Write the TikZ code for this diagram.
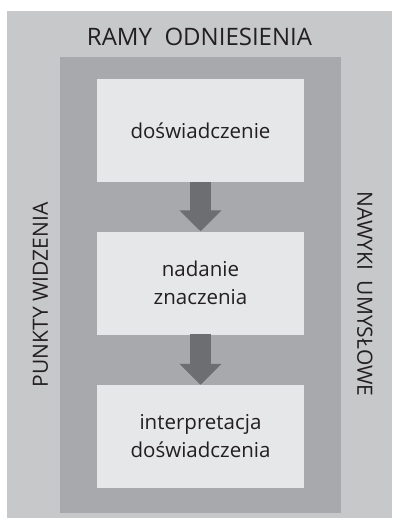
\documentclass[tikz,border=0pt]{standalone}
\usepackage{fontspec}
\setmainfont{Open Sans}
\usetikzlibrary{arrows.meta}
\definecolor{outerc}{HTML}{C7C8CA}
\definecolor{midc}{HTML}{A7A9AC}
\definecolor{innerc}{HTML}{E6E7E8}
\definecolor{arrc}{HTML}{6D6E71}
\definecolor{txtc}{HTML}{231F20}
\tikzset{
  stepbox/.style={fill=innerc, draw=none, minimum width=207pt, minimum height=103pt, inner sep=0pt, align=center, text=txtc, font=\fontsize{20.5}{28}\selectfont},
  sidelabel/.style={text=txtc, inner sep=0pt, font=\fontsize{21}{24}\selectfont},
  flowarrow/.style={arrc, line width=21pt, -{Triangle[width=41pt,length=21pt]}, shorten <=-0.5pt}
}
\begin{document}
\begin{tikzpicture}[x=1pt,y=-1pt]
\useasboundingbox (0,0) rectangle (393,524);
\fill[outerc] (7,11) rectangle (392,518);
\fill[midc] (60,57) rectangle (341,513);
\node[sidelabel, font=\fontsize{24}{28}\selectfont] (title) at (199.5,37) {RAMY\ \ ODNIESIENIA};
\node[sidelabel, rotate=90] (left) at (40.5,295) {PUNKTY WIDZENIA};
\node[sidelabel, rotate=-90] (right) at (365,294) {NAWYKI\ \ UMYSŁOWE};
\node[stepbox] (b1) at (200.5,130.5) {doświadczenie};
\node[stepbox] (b2) at (200.5,283) {nadanie\\znaczenia};
\node[stepbox] (b3) at (200.5,436.5) {interpretacja\\doświadczenia};
\draw[flowarrow] (b1.south) -- (b2.north);
\draw[flowarrow] (b2.south) -- (b3.north);
\end{tikzpicture}
\end{document}
